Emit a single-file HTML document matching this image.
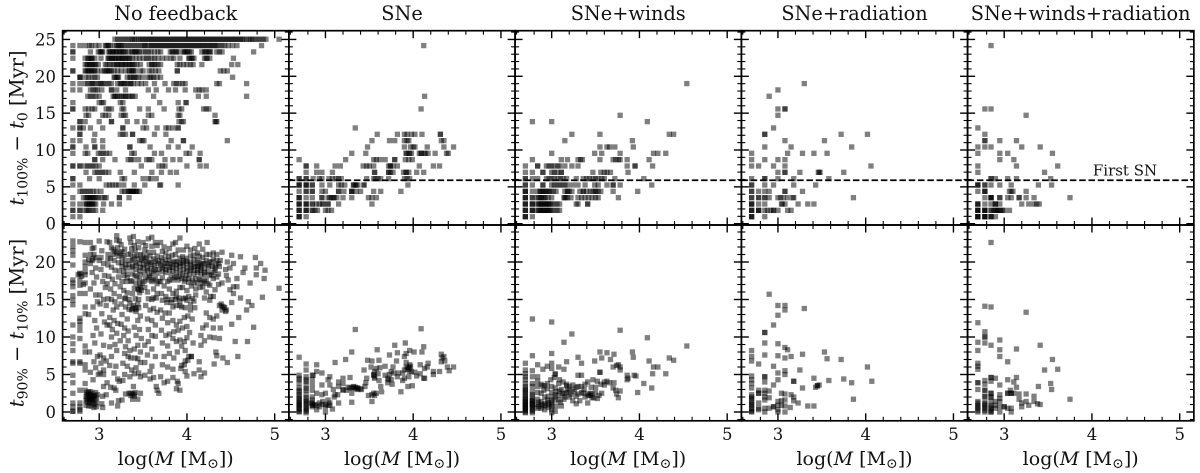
<!DOCTYPE html>
<html lang="en">
<head>
<meta charset="utf-8">
<title>Star cluster formation timescales by feedback model</title>
<style>
html,body{margin:0;padding:0;background:#fff;}
svg{display:block;font-family:"DejaVu Serif","Liberation Serif",serif;}
</style>
</head>
<body>
<svg id="figure" width="1200" height="473" viewBox="0 0 1200 473" xmlns="http://www.w3.org/2000/svg">
  <defs><filter id="soften" x="0" y="0" width="100%" height="100%"><feGaussianBlur stdDeviation="0.35"/></filter></defs>
  <rect x="0" y="0" width="1200" height="473" fill="#ffffff"/>
  <g id="marks" filter="url(#soften)"></g>
  <g id="axes"></g>
  <g font-size="19.3" text-anchor="middle" fill="#111">
    <text x="175.7" y="20">No feedback</text>
    <text x="402" y="20">SNe</text>
    <text x="628.2" y="20">SNe+winds</text>
    <text x="854.5" y="20">SNe+radiation</text>
    <text x="1080.7" y="20">SNe+winds+radiation</text>
  </g>
  <text transform="translate(23.5,128) rotate(-90)" text-anchor="middle" font-size="19.5" fill="#111"><tspan font-style="italic">t</tspan><tspan font-size="14" dy="4">100%</tspan><tspan dy="-4"> − </tspan><tspan font-style="italic">t</tspan><tspan font-size="14" dy="4">0</tspan><tspan dy="-4"> [Myr]</tspan></text>
  <text transform="translate(23.5,323) rotate(-90)" text-anchor="middle" font-size="19.5" fill="#111"><tspan font-style="italic">t</tspan><tspan font-size="14" dy="4">90%</tspan><tspan dy="-4"> − </tspan><tspan font-style="italic">t</tspan><tspan font-size="14" dy="4">10%</tspan><tspan dy="-4"> [Myr]</tspan></text>
  <g font-size="19" text-anchor="middle" fill="#111">
    <text x="175.7" y="465">log(<tspan font-style="italic">M</tspan> [M<tspan font-size="14" dy="3">⊙</tspan><tspan dy="-3">])</tspan></text>
    <text x="402" y="465">log(<tspan font-style="italic">M</tspan> [M<tspan font-size="14" dy="3">⊙</tspan><tspan dy="-3">])</tspan></text>
    <text x="628.2" y="465">log(<tspan font-style="italic">M</tspan> [M<tspan font-size="14" dy="3">⊙</tspan><tspan dy="-3">])</tspan></text>
    <text x="854.5" y="465">log(<tspan font-style="italic">M</tspan> [M<tspan font-size="14" dy="3">⊙</tspan><tspan dy="-3">])</tspan></text>
    <text x="1080.7" y="465">log(<tspan font-style="italic">M</tspan> [M<tspan font-size="14" dy="3">⊙</tspan><tspan dy="-3">])</tspan></text>
  </g>
  <text x="1125" y="175.5" font-size="15" text-anchor="middle" fill="#111">First SN</text>
</svg>
<script>
// Discrete time rows of the top panels (Myr)
const topTimeRows = [0.95,1.81,2.67,3.53,4.39,5.25,6.11,6.97,7.83,8.69,9.55,10.41,11.27,12.13,12.99,13.85,14.71,15.57,16.43,17.29,18.15,19.01,19.87,20.73,21.59,22.45,23.31,24.17,25.03];
const firstSnTime = 5.9;
const xTickLabels = [3,4,5];
const xMinorTicks = [2.6,2.8,3.2,3.4,3.6,3.8,4.2,4.4,4.6,4.8];
const yTickLabelsTop = [0,5,10,15,20,25];
const yMinorTicksTop = [1,2,3,4,6,7,8,9,11,12,13,14,16,17,18,19,21,22,23,24,26];
const yTickLabelsBottom = [0,5,10,15,20];
const yMinorTicksBottom = [-1,1,2,3,4,6,7,8,9,11,12,13,14,16,17,18,19,21,22,23,24];

// Top-row masses (log M) listed per entry of topTimeRows
const topNoFeedback = [
[2.70,2.78],
[2.70,2.70,2.78,2.78,2.84,2.86,2.88,2.90,2.93,2.96,3.04],
[2.70,2.78,2.84,2.86,2.88,2.90,2.92,2.94,2.96,3.05,3.14,3.23],
[2.70,2.82,2.85,2.87,2.89,2.91,2.93,2.95,2.97,2.99,3.03,3.06,3.08,3.23,3.23,3.34],
[2.78,2.81,2.84,2.87,2.90,2.93,2.97,3.02,3.26,3.29,3.33,3.35,3.37,3.39,3.41,3.43,3.46],
[2.70,2.78,3.08,3.12,3.15,3.19,3.22,3.28,3.40,3.52,3.69,3.70,3.90],
[2.70,2.70,2.89,3.00,3.26,3.29,3.50,3.56,3.59,3.65],
[2.85,2.95,2.98,3.01,3.04,3.07,3.11,3.24,3.40,3.60,3.71,3.81,3.88],
[2.70,2.70,2.78,2.78,2.84,2.87,2.90,2.93,2.96,3.00,3.48,3.68,3.72,3.75,4.00,4.15,4.22],
[2.95,2.95,3.04,3.18,3.33,3.36,3.39,3.45,3.54,3.57,3.60,3.75,3.84,3.92,4.14,4.14],
[2.70,2.84,2.87,2.99,3.02,3.05,3.08,3.12,3.37,3.40,3.63,3.71,3.99,4.03,4.15],
[2.70,2.70,2.85,2.95,2.95,3.04,3.35,3.35,3.58,3.79,3.90,4.06],
[2.70,2.78,2.94,3.04,3.46,3.49,3.51,3.82,3.96,3.96,4.46],
[2.78,2.78,2.95,3.24,3.27,3.30,3.38,3.38,3.63,3.76],
[2.70,2.78,2.78,2.82,2.90,3.04,3.27,3.27,3.50,3.54,3.66,3.76,3.79,3.84,3.90,3.90],
[2.78,2.78,2.84,3.00,3.14,3.14,3.32,3.43,3.52,3.91,3.94,3.96,4.32,4.33,4.34],
[2.85,2.88,3.04,3.07,3.11,3.25,3.28,3.30,3.56,3.60,3.90,3.92,4.32],
[2.70,2.70,2.84,2.88,2.92,2.95,3.08,3.11,3.14,3.26,3.28,3.46,3.56,3.74,3.91,3.94,4.19,4.22,4.25],
[2.70,3.00,3.03,3.05,3.24,3.27,3.69,3.90,3.99,3.99],
[2.87,2.90,2.93,2.96,3.00,3.16,3.18,3.21,3.25,3.28,3.30,3.34,3.38,3.41,3.62,4.13,4.22,4.68],
[2.70,2.78,2.90,2.93,2.96,2.98,3.03,3.14,3.14,3.20,3.30,3.56,3.65,3.79,3.87,3.98,4.10,4.14,4.17,4.22],
[2.70,2.78,2.84,2.87,2.90,2.93,2.96,2.99,3.02,3.05,3.08,3.11,3.14,3.21,3.24,3.27,3.30,3.33,3.36,3.39,3.44,3.48,3.53,3.63,3.75,3.85,3.88,3.91,3.95,3.98,4.34,4.37,4.68],
[2.78,2.78,2.85,2.88,2.92,2.95,2.98,3.17,3.20,3.22,3.32,3.36,3.39,3.42,3.45,3.49,3.55,3.58,3.62,3.66,3.70,4.52],
[2.70,2.70,2.84,2.87,2.89,2.92,2.95,2.98,3.03,3.06,3.09,3.11,3.14,3.17,3.21,3.25,3.30,3.34,3.37,3.39,3.41,3.47,3.50,3.57,3.60,3.64,3.68,3.89,3.89,4.38,4.42,4.46],
[2.84,2.87,2.90,2.93,2.96,2.99,3.07,3.09,3.12,3.15,3.17,3.20,3.22,3.25,3.28,3.31,3.34,3.37,3.40,3.43,3.47,3.57,3.60,3.63,3.67,3.70,3.89,3.92,3.96,4.00,4.04,4.07,4.17,4.51,4.58],
[2.70,2.84,2.87,2.90,2.92,2.95,3.02,3.10,3.12,3.14,3.17,3.19,3.22,3.24,3.27,3.29,3.32,3.35,3.38,3.42,3.46,3.50,3.54,3.56,3.60,3.63,3.67,3.72,3.77,3.82,3.85,3.92,4.02,4.05,4.08,4.20,4.23,4.26,4.53],
[2.70,2.70,2.90,2.99,3.02,3.04,3.11,3.13,3.15,3.18,3.20,3.23,3.25,3.27,3.30,3.33,3.37,3.40,3.43,3.46,3.50,3.53,3.56,3.59,3.63,3.67,3.70,3.81,3.84,3.87,3.90,3.96,3.98,4.00,4.03,4.05,4.17,4.20,4.22,4.25,4.27,4.34,4.37,4.40,4.76],
[2.70,2.78,2.84,2.89,2.91,2.96,3.00,3.07,3.10,3.13,3.18,3.20,3.23,3.26,3.29,3.32,3.35,3.38,3.41,3.44,3.47,3.50,3.53,3.56,3.59,3.62,3.65,3.68,3.71,3.74,3.77,3.80,3.83,3.86,3.89,3.92,3.95,3.98,4.01,4.04,4.07,4.10,4.13,4.16,4.19,4.22,4.25,4.28,4.31,4.34,4.37,4.40,4.43,4.47,4.52,4.57,4.85],
[3.18,3.21,3.24,3.27,3.30,3.33,3.36,3.38,3.40,3.42,3.45,3.47,3.49,3.51,3.53,3.55,3.57,3.59,3.61,3.63,3.65,3.67,3.69,3.71,3.73,3.75,3.77,3.79,3.81,3.83,3.85,3.87,3.89,3.91,3.93,3.95,3.97,3.99,4.01,4.03,4.05,4.07,4.09,4.11,4.13,4.15,4.17,4.19,4.21,4.23,4.25,4.27,4.29,4.31,4.33,4.35,4.37,4.39,4.41,4.43,4.45,4.47,4.49,4.51,4.53,4.55,4.57,4.59,4.61,4.63,4.65,4.68,4.71,4.73,4.75,4.78,4.81,4.84,4.87,4.90,5.05]
];
const topSne = [
[2.70,2.70,2.78],
[2.70,2.70,2.78,2.78,2.85,2.88,2.91,3.00,3.03,3.07],
[2.70,2.70,2.78,2.78,2.85,2.85,2.90,2.93,2.97,2.97,3.03,3.03,3.15,3.53],
[2.70,2.70,2.78,2.85,2.96,2.96,3.03,3.07,3.10,3.13,3.20,3.30,3.49,3.53,3.58],
[2.70,2.78,2.78,2.85,2.85,2.96,3.00,3.15,3.15,3.21,3.30,3.30,3.35,3.40,3.55,3.63,3.86],
[2.70,2.70,2.78,2.78,2.85,2.85,2.96,3.05,3.15,3.18,3.22,3.32,3.34,3.37,3.44,3.44,3.94],
[2.70,2.70,2.78,2.78,2.86,2.93,2.96,3.04,3.08,3.12,3.15,3.18,3.47,3.55,3.57,3.60,3.63,3.72,3.90,3.93,3.96],
[2.78,2.90,2.96,3.08,3.56,3.56,3.72,3.74,3.77,3.89,3.92,3.95,4.04,4.12],
[2.78,2.78,2.90,3.11,3.17,3.43,3.47,3.50,3.55,3.72,3.74,3.77,3.82,4.07,4.23,4.30],
[2.70,3.23,3.55,3.58,3.62,3.68,3.79,3.79,3.91,3.95,3.99],
[3.30,3.46,3.92,3.95,3.98,4.07,4.09,4.13,4.17,4.25,4.38,4.40],
[3.48,3.90,3.97,4.00,4.02,4.16,4.35,4.46],
[3.53,3.73,3.79,3.90,3.93,3.95,4.32,4.35],
[3.59,3.82,3.90,3.93,3.98,4.02,4.10,4.31,4.31],
[3.34],[],[],[4.09],[],[4.13],[],[],[],[],[],[],[],[4.12],[]
];
const topSneWinds = [
[2.70,2.70,2.78],
[2.70,2.70,2.78,2.78,2.84,2.86,2.88,2.90,2.92,2.94,2.96,2.98,3.00,3.03,3.06,3.09],
[2.70,2.70,2.78,2.78,2.84,2.86,2.88,2.90,2.92,2.94,2.96,2.98,3.00,3.03,3.06,3.09,3.28,3.30,3.41,3.41],
[2.70,2.70,2.78,2.78,2.84,2.87,2.90,2.93,2.96,3.00,3.14,3.16,3.18,3.22,3.30,3.34,3.38,3.42,3.46,3.50,3.53,3.76],
[2.70,2.70,2.78,2.84,2.87,2.90,2.93,2.96,2.99,3.02,3.05,3.15,3.18,3.20,3.23,3.32,3.36,3.40,3.44,3.47,3.50,3.53,3.56,3.70,3.98],
[2.70,2.70,2.78,2.90,2.90,3.00,3.03,3.06,3.09,3.12,3.15,3.18,3.24,3.30,3.38,3.49,3.53,3.63,3.70,3.70,3.78,4.14],
[2.70,2.70,2.78,2.84,2.94,2.97,3.00,3.03,3.07,3.10,3.13,3.17,3.28,3.36,3.40,3.43,3.47,3.50,3.53,3.57,3.60,3.72,4.05],
[2.70,2.78,2.90,2.90,3.00,3.03,3.06,3.11,3.11,3.47,3.56,3.60,3.63,3.67,3.87],
[2.70,2.84,2.84,2.94,2.97,3.00,3.03,3.07,3.09,3.15,3.23,3.30,3.86,3.95,3.95,4.15],
[2.78,3.11,3.18,3.30,3.33,3.35,3.55,3.70,3.73,3.76,3.78,3.86,4.11],
[3.00,3.49,3.57,3.78,4.16,4.21,4.30],
[3.55,3.63,3.66,3.72,3.93],
[3.15,3.92],
[3.23,3.55,4.34,4.39],
[],
[2.78,3.00,4.09],
[3.78],[],[],[],[],
[4.54],[],[],[],[],[],[],[]
];
const topSneRadiation = [
[2.70,2.70,2.70,2.85],
[2.70,2.70,2.70,2.78,2.78,2.78,2.85,2.88,2.92,2.95,2.95,3.00,3.11,3.15],
[2.70,2.70,2.70,2.78,2.85,3.04,3.05,3.08,3.23,3.34,3.41],
[2.70,2.70,2.78,2.78,2.85,2.85,2.90,3.00,3.03,3.06,3.11,3.17,3.18,3.86],
[2.70,2.70,2.78,2.85,2.90,3.08,3.08,3.28],
[2.70,2.70,2.85,2.95,3.18,3.43],
[2.70,2.85,2.85,3.00,3.18,3.58],
[3.00,3.08,3.08,3.25,3.46,3.47,3.48,3.75],
[2.70,2.78,2.95,3.08,4.06],
[2.70,2.85,3.00,3.08],
[2.70,3.11,3.28,3.41,3.56],
[2.85,3.15,3.84],
[3.08,3.53],
[2.85,2.85,3.72,4.02],
[2.95],[],
[3.00],
[3.00,3.08,3.08],
[],
[2.90],
[3.00],
[3.30],[],[],[],[],[],[],[]
];
const topSneWindsRadiation = [
[2.70,2.70,2.70,2.78,2.78,2.78,2.85,2.85,2.90],
[2.70,2.70,2.70,2.78,2.78,2.78,2.85,2.85,2.88,2.90,2.92,2.95,2.98,3.00,3.06],
[2.70,2.70,2.78,2.85,2.90,2.90,2.95,3.20,3.28,3.34,3.37,3.40],
[2.78,2.85,2.85,2.85,2.95,2.95,3.04,3.08,3.17,3.17,3.25,3.34,3.75],
[2.70,2.78,2.78,3.06,3.08,3.10,3.25],
[2.70,2.70,2.78,2.78,2.85,2.95,3.08,3.39,3.54],
[2.85,2.85,2.90,3.04,3.14,3.53],
[2.70,3.46],
[2.70,3.14,3.61],
[2.95,3.11],
[2.70,2.95,3.04,3.55],
[2.70,2.78,2.85,3.20,3.41],
[2.78,2.78,2.95,3.14],
[2.78],
[2.70],[],
[3.25],
[2.78,2.85],
[],[],[],[],[],[],[],[],[],
[2.85],
[]
];

// Extra overlapping points where the top panels read darkest: [log M, time]
const topNoFeedbackDense = [
[3.08,24.17],[3.11,24.17],[3.22,24.17],[3.25,24.17],[3.52,24.17],[3.6,24.17],[3.66,24.17],[3.72,24.17],[3.78,24.17],[3.84,24.17],[3.9,24.17],[3.96,24.17],[4.02,24.17],[4.08,24.17],[4.14,24.17],[4.2,24.17],[4.26,24.17],[4.32,24.17],
[3.01,23.31],[3.03,23.31],[3.12,23.31],[3.16,23.31],[3.19,23.31],[3.24,23.31],[3.28,23.31],[3.38,23.31],[3.41,23.31],[3.44,23.31],[3.83,23.31],[3.88,23.31],[3.97,23.31],[4.01,23.31],[4.21,23.31],[4.26,23.31],
[2.88,22.45],[2.91,22.45],[3.11,22.45],[3.15,22.45],[3.18,22.45],[3.23,22.45],[3.26,22.45],[3.3,22.45],[3.34,22.45],[4.03,22.45],[4.06,22.45],[4.22,22.45],
[2.86,21.59],[2.89,21.59],[2.92,21.59],[2.95,21.59],[3.21,21.59],[3.26,21.59],[3.3,21.59],[3.35,21.59],[3.38,21.59],[3.6,21.59],[3.64,21.59],
[2.85,20.73],[2.88,20.73],[2.91,20.73],[2.94,20.73],[3.08,20.73],[3.12,20.73],[3.35,20.73],[3.38,20.73],
[2.79,19.87],[3.18,19.87],[3.21,19.87],[3.35,19.87],[3.4,19.87],[3.6,19.87],
[2.92,19.01],[3.02,19.01],[3.25,19.01],[3.29,19.01],[3.36,19.01],
[3.18,17.29],[3.23,17.29],[3.3,17.29],[3.36,17.29],
[2.87,3.53],[2.9,3.53],[2.93,3.53],[2.86,2.67],[2.89,2.67],[2.92,2.67],[3.33,4.39],[3.36,4.39],[3.39,4.39],[3.42,4.39]
];
const topSneDense = [
[2.7,0.95],[2.7,1.81],[2.78,1.81],[2.7,2.67],[2.78,2.67],[2.7,3.53],[2.85,1.81],[3.32,5.25],[3.35,5.25],[3.3,4.39],[2.7,5.25],[2.78,5.25],[3.05,3.53],[3.09,3.53],[3.92,9.55],[3.96,9.55],[4.09,9.55],[4.14,9.55],[3.72,6.97],[3.74,7.83],[3.92,6.97]
];
const topSneWindsDense = [
[2.7,0.95],[2.7,1.81],[2.78,1.81],[2.7,2.67],[2.78,2.67],[2.7,3.53],[2.7,4.39],[2.85,1.81],[2.88,1.81],[2.91,1.81],[2.94,1.81],[2.97,1.81],[2.85,2.67],[2.88,2.67],[2.91,2.67],[2.94,2.67],[2.97,2.67],[2.85,3.53],[2.88,3.53],[2.91,3.53],[2.87,4.39],[2.9,4.39],[2.93,4.39],[2.97,4.39],[3.15,3.53],[3.18,4.39],[3.36,4.39],[3.5,4.39]
];
const topSneWindsRadiationDense = [
[2.7,0.95],[2.78,0.95],[2.85,0.95],[2.7,1.81],[2.78,1.81],[2.9,1.81],[2.93,1.81],[2.96,1.81],[2.7,2.67],[2.7,5.25],[2.78,4.39],[2.85,3.53],[2.9,2.67]
];

// Bottom-row points as [log M, t90-t10]
const bottomNoFeedback = [
[2.70,22.8],[2.70,22.1],[2.70,21.5],[2.70,20.9],[2.70,19.6],[2.70,17.6],[2.70,17.2],[2.70,16.7],[2.70,15.5],[2.70,14.9],[2.70,14.3],[2.70,11.6],[2.70,10],[2.70,9.1],[2.70,8.2],[2.70,6.7],[2.70,6.5],[2.70,4.9],[2.70,3.9],[2.70,2.5],[2.70,1.2],[2.70,0.7],[2.70,0.1],[2.70,0.1],
[2.78,22.7],[2.78,18.5],[2.78,18.4],[2.78,17.6],[2.78,16.9],[2.78,15.8],[2.78,12.5],[2.78,12.1],[2.78,11.6],[2.78,10.9],[2.78,9.8],[2.78,6.7],[2.78,6.5],[2.78,2.9],[2.78,1.2],[2.78,0.7],[2.78,0.3],[2.78,0.1],
[2.84,22.6],[2.84,20.9],[2.84,20],[2.84,19.4],[2.84,18.7],[2.84,18.3],[2.84,17.2],[2.84,15.8],[2.84,14],[2.84,13.1],[2.84,8.8],[2.84,8],[2.84,6.3],[2.84,5.6],[2.84,3.8],
[2.84,2.9],[2.86,2.6],[2.88,2.4],[2.90,2.7],[2.92,2.5],[2.94,2.2],[2.96,2.6],[2.98,2.3],[2.85,2.1],[2.87,1.9],[2.89,2.1],[2.91,2],[2.93,1.8],[2.95,1.6],[2.97,1.9],[2.85,1.5],[2.87,1.3],[2.89,1.6],[2.91,1.4],[2.93,1.2],[2.95,1],[2.97,1.3],[2.85,0.9],[2.88,0.8],[2.91,0.8],[2.94,0.6],[2.97,0.7],[3.03,1.1],[3.04,0.6],[3.04,2.1],[3.08,2.3],[3.14,1.2],[3.21,0.8],[3.22,1.5],[3.19,2.9],[3.26,1.6],[3.3,2.4],[3.34,2.5],[3.36,2.2],[3.4,2.4],[3.38,1.7],[3.44,1.7],[3.47,2.5],
[2.90,22.6],[2.92,21.8],[2.94,21],[2.93,20.4],[2.9,19.8],[2.96,19.2],[2.92,18.6],[2.97,18],[2.94,17.2],[2.9,16.4],[2.96,15.6],[2.98,14.7],[2.93,14],[2.88,13],[2.95,12.2],[2.97,11.2],[2.93,10.2],[2.95,9.2],[2.89,8],[2.98,7.4],[2.94,6.7],[2.96,5.9],[2.9,5.3],[2.99,5],[2.93,4.3],
[3.00,22.8],[3.03,21.5],[3.02,20.6],[3.05,19.8],[3.02,19],[3.06,18.2],[3.04,17.4],[3.07,16.6],[3.01,15.6],[3.05,15],[3.08,14.2],[3.01,14.4],[3.03,13.1],[3.06,12],[3.09,11.6],[3.12,11.6],[3.02,10.4],[3.05,8.9],[3.01,7.6],[3.05,7.2],[3.08,6.8],[3.02,6.5],[3.05,5.6],[3.01,5.2],[3.05,5],[3.09,3.9],[3.05,3.4],[3.13,3.3],[3.17,3.2],
[3.09,22.7],[3.12,22.6],[3.14,21.9],[3.16,21.7],[3.18,21.4],[3.1,21],[3.13,20.5],[3.17,20.2],[3.1,19.6],[3.14,19.3],[3.18,18.9],[3.11,18.1],[3.15,17.7],[3.09,17.1],[3.18,17.1],[3.13,16.4],[3.17,15.8],[3.1,15.1],[3.14,15],[3.18,14.7],[3.2,14],[3.16,13.6],[3.12,12.6],[3.17,12.2],[3.21,11.8],[3.15,11],[3.2,10.5],[3.14,10],[3.18,9],[3.12,8.7],[3.2,8.2],[3.14,7.4],[3.12,6.2],[3.19,6.1],[3.17,5.2],[3.21,4.4],[3.23,4.1],
[3.2,23.5],[3.2,22.9],[3.23,22.8],[3.25,22.3],[3.21,21.9],[3.26,21.4],[3.29,21.7],[3.22,20.8],[3.26,20.6],[3.3,20.2],[3.22,19.9],[3.26,19.4],[3.31,19.2],[3.23,18.8],[3.28,18.2],[3.32,18.4],[3.22,18],[3.26,17.4],[3.31,17.4],[3.24,16.7],[3.28,16.2],[3.32,15.9],[3.23,15.4],[3.29,15.1],[3.34,15],[3.25,14.4],[3.3,14],[3.34,13.7],[3.37,13.6],[3.26,13],[3.32,12.4],[3.25,11.7],[3.29,11.2],[3.33,10.8],[3.28,10.2],[3.24,9.5],[3.33,9.5],[3.3,8.7],[3.35,8.2],[3.29,7.8],[3.33,7.4],[3.36,7.2],[3.27,6.5],[3.32,6.1],[3.37,5.6],[3.29,5],[3.35,4.7],[3.27,4.2],
[3.35,23.2],[3.39,23.4],[3.36,22.6],[3.4,22.2],[3.44,22.7],[3.37,21.8],[3.41,21.5],[3.45,21.9],[3.36,21.1],[3.4,20.7],[3.44,20.4],[3.47,21],[3.36,20.2],[3.41,19.9],[3.46,19.8],[3.37,19.2],[3.42,19],[3.46,18.8],[3.38,18.4],[3.43,18],[3.47,18.3],[3.37,17.4],[3.42,17.2],[3.46,16.9],[3.4,16.5],[3.45,16.3],[3.48,16.2],[3.38,15.8],[3.41,15.1],[3.45,15],[3.39,14.2],[3.41,13.9],[3.42,13.4],[3.45,13.9],[3.47,12.8],[3.44,12.2],[3.4,11.3],[3.46,11],[3.42,10.2],[3.48,9.8],[3.44,8.9],[3.4,8.4],[3.47,8],[3.41,7.2],[3.44,7.1],[3.47,6.6],[3.42,5.9],[3.45,5.2],[3.4,5.1],[3.47,4.7],[3.39,3.4],[3.41,2.6],
[3.5,22.6],[3.53,22.2],[3.56,23.1],[3.6,23.3],[3.52,21.6],[3.56,21.3],[3.6,22.1],[3.64,22.6],[3.5,20.9],[3.54,20.6],[3.58,20.8],[3.62,21.3],[3.66,22.2],[3.5,20.2],[3.54,19.8],[3.58,19.9],[3.62,20.4],[3.66,20.8],[3.5,19.2],[3.55,19.2],[3.59,19.1],[3.63,19.5],[3.67,19.8],[3.52,18.6],[3.57,18.2],[3.62,18.8],[3.66,18.5],[3.51,17.4],[3.56,17.6],[3.6,17.4],[3.64,17.8],[3.68,17.4],[3.52,16.6],[3.55,16],[3.62,16.4],[3.66,15.8],[3.56,15.1],[3.6,15],[3.65,15.2],[3.53,14.2],[3.58,13.6],[3.62,13.8],[3.66,13.3],[3.55,12.4],[3.6,12.2],[3.64,11.6],[3.56,11],[3.6,10.2],[3.64,10.1],[3.56,9.4],[3.52,8.9],[3.6,8.4],[3.55,7.6],[3.64,7.4],[3.52,6.6],[3.6,6.1],[3.58,5.4],[3.52,4.9],[3.62,4.6],[3.58,4.4],[3.65,3.4],[3.66,2.9],[3.68,2.5],
[3.7,22.6],[3.74,22],[3.72,21.4],[3.76,21.2],[3.8,21.8],[3.84,22.4],[3.87,22.6],[3.92,23.2],[3.71,20.6],[3.75,20.4],[3.79,20.7],[3.83,20.9],[3.87,21],[3.9,21.6],[3.7,19.6],[3.74,19.4],[3.78,19.8],[3.82,19.6],[3.86,20.1],[3.89,20],[3.92,20.5],[3.72,18.7],[3.76,18.6],[3.8,18.9],[3.84,18.8],[3.88,19.2],[3.92,19.4],[3.7,17.4],[3.74,16.8],[3.8,17.6],[3.84,17.6],[3.88,18],[3.92,18.1],[3.71,15.8],[3.76,15.4],[3.8,16.4],[3.84,15.8],[3.88,16.1],[3.92,16.6],[3.72,14.9],[3.77,14.6],[3.83,15],[3.87,15],[3.91,15.2],[3.7,13.6],[3.75,13.2],[3.8,13.2],[3.84,14],[3.88,14.2],[3.92,14.2],[3.72,12.5],[3.78,11.9],[3.84,12.2],[3.88,11.6],[3.92,12.1],[3.71,10.9],[3.76,10.2],[3.8,10.4],[3.85,10.7],[3.9,10.9],[3.72,9.2],[3.78,8.8],[3.84,9.8],[3.88,9.4],[3.92,9.6],[3.74,7.4],[3.8,7.8],[3.85,7.2],[3.89,8],[3.94,8.8],[3.72,6.3],[3.78,6],[3.84,5.7],[3.7,4.7],[3.74,3.9],[3.78,4.1],[3.84,4.6],[3.89,4.1],[3.9,3.8],[3.88,3.1],[3.92,2.9],
[3.96,21.6],[4,22.1],[4.04,21.6],[4.09,21.8],[3.95,20.7],[3.99,20.5],[4.04,20.8],[4.08,20.9],[4.12,21.2],[3.95,19.9],[4,19.8],[4.04,20],[4.08,20.3],[4.12,20.2],[3.96,19],[4,19.2],[4.05,19.2],[4.09,19.4],[4.13,19.5],[3.95,18.4],[3.99,18.2],[4.03,18.4],[4.08,18.4],[4.12,18.6],[3.97,17.4],[4.02,17.3],[4.06,17.6],[4.1,17.8],[4.14,17.7],[3.95,16.6],[4,16.2],[4.05,16.8],[4.1,16.4],[4.15,16.6],[3.96,15.1],[4,14.9],[4.06,15.1],[4.1,15.6],[3.94,14],[3.98,13.9],[4.04,13.6],[4.09,13.9],[3.97,12.6],[4.01,12.8],[4.06,12.4],[3.95,11.2],[4,11.4],[4.03,10.6],[4,9.9],[3.97,9.4],[4.07,9.2],[3.98,8.2],[4.02,7.4],[4.05,7.4],[3.98,6.8],[3.94,6.2],[3.98,5.4],[4,4.8],[4.08,5.1],[3.93,5.8],
[4.14,22.4],[4.18,21.7],[4.23,22.6],[4.14,20.8],[4.18,20.6],[4.22,21],[4.26,21],[4.3,21.2],[4.34,21],[4.14,19.9],[4.18,19.8],[4.22,20.2],[4.26,20],[4.3,20.4],[4.34,20.2],[4.38,20.2],[4.4,21.3],[4.16,19.2],[4.2,19.1],[4.25,19.4],[4.29,19.4],[4.33,19.6],[4.37,19.4],[4.16,18.4],[4.2,18.6],[4.26,18.3],[4.3,18.6],[4.36,18.4],[4.16,17.6],[4.2,17.4],[4.24,17.1],[4.3,17.8],[4.34,18],[4.18,16.7],[4.22,16],[4.27,15.4],[4.32,16.3],[4.36,17],[4.4,17.2],[4.2,15.2],[4.26,14.9],[4.3,15.4],[4.37,14.2],[4.42,14],[4.4,13.6],[4.44,13.4],[4.45,13.6],[4.22,13.2],[4.26,12.6],[4.3,12.4],[4.34,12.8],[4.22,11.6],[4.18,11.2],[4.3,11.2],[4.38,11.2],[4.16,10.2],[4.26,10],[4.31,9.9],[4.37,9.8],[4.2,9.5],[4.16,8.9],
[4.34,7.5],[4.33,8],[4.31,6.4],[4.2,5.2],[4.16,4.7],[4.14,5.6],[4.14,6.7],[4.05,7.4],[4.01,6.9],[3.97,6.3],
[5.05,16.5],[4.88,17.8],[4.89,18.9],[4.84,19.8],[4.79,19.2],[4.78,20.6],[4.79,18.3],[4.86,15.3],[4.72,17.2],[4.76,11.3],[4.69,9.4],[4.55,9.4],[4.58,7.4],[4.46,6.6],[4.41,7.2],[4.61,20.7],[4.51,20.9],[4.53,19.8],[4.49,19.2],[4.64,18.6],[4.66,19.2],[4.57,17.8],[4.53,16.7],[4.49,16.3],[4.57,16.7],[4.53,15.8],[4.61,15.2],[4.7,14.7],[4.74,14.2],[4.68,13.6],[4.51,14.6],[4.59,12.6],[4.51,11.7],[4.46,20],[4.44,19],[4.47,17.6],[4.45,18.2]
];
// Overlapping points inside the darkest part of the no-feedback cloud
const bottomNoFeedbackDense = [
[3.24,21.2],[3.28,20.9],[3.33,21],[3.38,20.4],[3.43,20.9],[3.48,20.3],[3.52,20.5],[3.56,20],[3.6,19.7],[3.64,20.1],[3.68,20.2],[3.72,20],[3.76,19.8],[3.8,20.2],[3.84,19.9],[3.88,19.6],[3.92,19.8],[3.96,20.2],[4,20.1],[4.04,19.6],[4.08,19.7],[4.12,19.4],[4.16,19.6],[4.2,19.8],[4.24,19.6],[4.28,20],[4.32,19.2],[4.36,19.8],
[3.26,19.9],[3.3,19.6],[3.34,19.7],[3.38,19.4],[3.42,19.6],[3.47,19.3],[3.51,19.6],[3.55,18.9],[3.6,18.5],[3.64,19],[3.68,19],[3.72,19.2],[3.76,19],[3.8,19.3],[3.84,19.3],[3.88,18.6],[3.92,18.8],[3.96,19.6],[4,18.8],[4.04,18.9],[4.08,18.9],[4.12,18.9],[4.16,18.9],[4.2,18.3],[4.24,18.7],[4.28,18.2],[4.32,18.9],
[3.28,18.8],[3.32,17.9],[3.36,17.5],[3.41,18.2],[3.46,17.6],[3.49,17.2],[3.53,17.9],[3.58,18],[3.62,17.6],[3.66,17.1],[3.72,17.9],[3.78,17.4],[3.82,18.2],[3.86,17.9],[3.9,17.6],[3.94,17.8],[3.98,17.7],[4.02,17.8],[4.08,17.2],[4.12,17.2],[4.18,17.2],[4.22,17.6],[4.26,16.9],[4.4,14.1],[4.43,13.9],[4.39,14.4],
[3.44,16.4],[3.46,15.9],[3.47,16.6],[3.3,15.2],[3.35,14.5],[3.38,13.8],[3.42,13.7],[3.44,14.4],[3.62,15.2],[3.78,15],[3.82,14.6],[3.88,15.4],[3.92,14.8],[3.98,15.2],[4.02,15.4],[4.04,14.3],[4.08,14.8],
[2.76,18.3],[2.8,18.1],[2.82,17],[2.88,20.3],[2.9,21],[2.94,21.9],[2.92,20.2],[2.96,20.6],[3,20.2],[3.1,20.3],[3.16,21],[3.2,21.2],[2.86,2.3],[2.9,2.3],[2.93,2.1],[2.89,1.2],[2.9,1.8],[2.86,1.7],[2.92,1.6],[2.88,2.7],[2.95,2.1],[3.38,2.4],[3.36,2.5],[3.4,2.1]
];
const bottomSne = [
[2.70,4.9],[2.70,4.5],[2.70,3.8],[2.70,3.2],[2.70,2.7],[2.70,2.3],[2.70,1.8],[2.70,1.4],[2.70,1.2],[2.70,0.7],[2.70,0.5],[2.70,0],
[2.78,6.4],[2.78,5.6],[2.78,4.7],[2.78,4.3],[2.78,3.6],[2.78,2.9],[2.78,2.3],[2.78,1.6],[2.78,1.2],[2.78,0.7],[2.78,0.3],[2.78,-0.1],
[2.85,4.9],[2.85,4.3],[2.85,3.6],[2.85,2.9],[2.85,2],[2.85,1.2],[2.85,0.7],
[2.7,7.3],[3.34,11],[4.09,11.1],[3.3,8],[3.11,6.6],[3.23,7],[3.91,9.2],[3.79,8.9],[4.12,8.7],[3.59,8.3],[3.82,7.9],[3.73,7.6],[3.92,7.8],[3.96,8.2],[4.01,8],[4.1,8],[3.48,6.9],[3.53,6.8],[3.61,6.9],[3.68,6.1],[3.81,6.8],[3.9,7.4],[3.92,6.6],[4.32,7.7],[4.33,7.2],[4.35,7.4],[4.32,6.7],[4.36,6.8],[4.39,6],[4.46,6],[4.41,5.5],[4.3,5.4],[4.23,5.4],[4.23,5],[4.17,6.5],[4.16,6],[4.08,6.3],[4.13,5.8],[4.13,4.5],[4.08,5.1],[4.04,4.8],[3.98,5.4],[3.96,6.3],[3.99,3.5],[3.94,3.4],[3.86,2.7],[3.95,4.7],[3.9,4.5],[3.88,4.2],[3.83,5.2],[3.77,6],[3.75,5.4],[3.73,5],[3.71,4.5],[3.75,4.3],[3.76,3.7],[3.71,3.9],[3.62,5.9],[3.55,5],[3.56,4.5],[3.61,4.2],[3.63,3.4],[3.64,2.7],[3.58,2.5],[3.53,2.3],[3.56,2.2],[3.49,2.2],[3.53,1.4],[3.3,1.3],[3.46,3.9],[3.47,4.5],[3.44,5.6],[3.52,6],[3.58,5.8],[3.56,5.4],[3.45,3.4],[3.41,3],[3.37,3],[3.32,3.4],[3.28,3.2],[3.34,3.3],[3.3,2.5],[3.28,4.6],[3.2,4.5],[3.2,3.8],[3.2,3],[3.15,4],[3.15,3.4],[3.09,3],[3.05,3.6],[3.05,4.7],[3.03,4.3],[3.11,2.3],[3.15,1.2],[3.08,0.4],[3,0],[3.05,0.9],[3.03,1.6],[2.97,1.4],[2.93,1.2],[2.9,0.3],[2.86,0.9],[2.84,1.2],[2.9,6.3],[2.96,5.2],[2.9,5.4],[2.86,4.9],[2.96,3.6],[3,2.5],[2.96,2.3],[2.9,2.5],[3.36,3.2],[3.4,3.1],[3.24,2.9],[3.26,3.3],
[3.6,5.1],[3.68,4.9],[3.78,5.2],[3.82,4.7],[3.92,6],[3.94,5.7],[3.96,5.4],[4.02,5.3],[3.96,5.9],[3.88,5.2]
];
const bottomSneDense = [
[2.70,4.3],[2.70,2.9],[2.70,2.1],[2.70,1.6],[2.70,1],[2.70,0.9],[2.70,0.3],[2.70,0.1],[2.78,4.1],[2.78,3.1],[2.78,1.9],[2.78,1.4],[2.78,1],[2.78,0.5],[2.78,0.1],[2.85,1.6],[2.85,0.9],[2.88,1],[2.9,0.9],[2.93,0.7],[2.96,1],[3,1],[3,0.7],[3.03,0.9],[3.05,1.2],[3.1,2],[3.14,2.3],[3.2,2.9],[3.32,3.3],[3.3,3.2],[3.35,3.1],[3.37,3.2],[3.55,4.9],[3.56,4.7],[3.72,4.3],[3.9,5.6],[3.94,5.9],[4.12,4.5],[3.97,6.1],[3.55,2.5]
];
const bottomSneWinds = [
[2.70,5.6],[2.70,5.1],[2.70,4.7],[2.70,4.3],[2.70,3.8],[2.70,3.4],[2.70,2.9],[2.70,2.5],[2.70,2],[2.70,1.6],[2.70,1.2],[2.70,0.7],[2.70,0.3],[2.70,-0.1],[2.70,6.5],[2.70,3.1],[2.70,2.2],[2.70,1.4],[2.70,0.9],[2.70,0.5],
[2.78,4.7],[2.78,3.8],[2.78,3.4],[2.78,2.7],[2.78,2.3],[2.78,1.6],[2.78,1.2],[2.78,0.7],[2.78,0.3],[2.78,-0.1],[2.78,1.4],[2.78,0.9],
[2.78,12.4],[3,12],[3.23,10.4],[3.14,9.3],[3.78,10.9],[4.09,9.9],[4.54,8.8],[2.78,7.5],[3,7.8],[3,6.5],[3.3,7.3],[3.34,6.5],[3.17,6.7],[3.08,6],[3.14,5.7],[2.84,6.3],[2.78,5.5],[2.9,5.7],[2.95,6.1],[3,5.8],[3.55,8],[3.63,7.9],[3.71,7.7],[3.57,7.2],[3.49,6.8],[3.67,7],[3.92,8],[3.93,7.3],[4.11,6.8],[4.16,6],[4.21,6],[4.34,7.2],[4.39,6.9],[4.3,5.1],[4.15,5.1],[4.14,3.2],[4.05,3.8],[3.98,2.6],[3.94,4.9],[3.96,4.8],[3.86,4.9],[3.86,4.3],[3.87,4.5],[3.76,6.3],[3.78,6],[3.74,6.2],[3.7,6],[3.78,5.6],[3.55,5.3],[3.55,5.3],[3.3,4.9],[3.34,4.9],[3.47,4.3],[3.41,4],[3.38,3.7],[3.34,3.4],[3.3,3.4],[3.24,3.6],[3.17,3.7],[3.13,4],[3.09,4.3],[3.04,5.1],[3.04,5],
[2.84,4.7],[2.84,4.1],[2.84,3.4],[2.84,2.6],[2.84,1.7],[2.84,1],[2.84,0.5],[2.88,3.7],[2.88,2.5],[2.88,1.4],[2.88,0.5],[2.9,3.5],[2.91,2.9],[2.92,2],[2.92,1.1],[2.92,0.3],[2.95,3.1],[2.96,2.1],[2.96,1.3],[2.96,0.6],[2.99,4.3],[3,2.6],[3,1.6],[3,1],[3,0.3],[3,-0.1],[3.04,3.2],[3.04,2.3],[3.04,1.6],[3.05,0.8],[3.04,0.1],[3.08,3.8],[3.09,2.8],[3.08,1.6],[3.11,0.8],[3.11,3],[3.14,2.4],[3.14,1.7],[3.17,3.5],[3.17,2.6],[3.2,3.4],[3.2,2],[3.24,3],[3.24,1.5],[3.28,1.1],[3.28,3.3],[3.3,2.4],[3.32,1.5],[3.34,2.6],[3.37,3],[3.38,2],[3.41,1.2],[3.41,2.4],[3.44,2.2],[3.46,2.4],[3.48,1.9],[3.5,2.6],[3.52,1.8],[3.54,2.2],[3.57,2.5],[3.6,4],[3.6,3.6],[3.63,4.1],[3.66,3.9],[3.7,3.2],[3.71,3.9],[3.74,2.4],[3.76,1.9],[3.78,2.8],[3.73,2.9],[3.52,4.1],[3.56,3.7],[3.5,3.3],[3.45,3.3]
];
const bottomSneWindsDense = [
[2.70,1.8],[2.70,1.3],[2.70,1],[2.70,0.6],[2.70,0.2],[2.70,0],[2.70,2.7],[2.78,2],[2.78,1.5],[2.78,1],[2.78,0.6],[2.78,0.1],[2.85,1.3],[2.85,0.7],[2.88,1],[2.9,0.8],[2.93,0.9],[2.95,1.6],[2.97,1],[3,1.3],[3,0.7],[3.02,2],[3.05,2.7],[3.08,2.2],[3.1,1.3],[3.12,2.5],[3.15,2],[3.18,3],[3.2,2.7],[3.22,2.3],[3.26,2.7],[3.28,2.1],[3.36,2.5],[3.42,2.2],[3.44,2.5],[3.46,1.9],[2.92,3.5],[2.95,3.8],[3,3.4],[3.03,4.6]
];
const bottomSneRadiation = [
[2.9,15.7],[3,14.2],[3.08,14.2],[3.08,13.6],[3.3,13.8],[3,12.9],[2.95,11.6],[2.85,10.6],[2.85,10.6],[2.85,9.2],[3,9.1],[3.08,8.6],[3.11,8.3],[2.7,8.2],[3.53,8],[2.7,7.4],[2.7,6.8],[2.85,7.6],[3,7.5],[3.08,7.2],[3.15,7.4],[3.28,7.7],[3.56,7.1],[3.72,7],[2.78,6.4],[2.95,6.1],[4.02,6],[3.25,5.6],[3.08,5.5],[3.08,5],[3,5.2],[3,4.3],[2.7,4.8],[2.7,4.3],[2.7,3.8],[2.7,3.2],[2.85,4.7],[2.85,4.7],[2.85,4],[3.41,4.5],[3.18,4.1],[3.18,4.1],[3.58,4.2],[3.75,4.4],[3.84,3.9],[4.07,4.1],[3.47,3.6],[3.45,3.5],[3.45,3.5],[3.43,3.3],[3.28,3.2],[2.95,3.6],[2.78,2.9],[2.78,2.5],[2.78,2.5],[2.85,2.9],[2.85,2.5],[2.85,2],[2.85,1.6],[2.9,2.8],[2.9,1.9],[3.04,2.5],[3.08,2.4],[3.15,2.3],[3.18,2],[3.18,1.5],[3.23,1.2],[3.86,1.7],[3.34,0.8],[3.41,0.8],[3.08,1.6],[3.04,1.5],[3,1.4],[3,0.9],[2.95,0.7],[2.95,0.7],[3.04,0.9],[3.08,0.8],[3.14,0.6],[3,0.3],[3,0],[3.08,0],[2.9,0.5],[2.85,0.5],[2.85,0],[2.78,1.2],[2.78,0.5],[2.78,0.3],
[2.7,2.3],[2.7,1.8],[2.7,1.6],[2.7,1.2],[2.7,0.9],[2.7,0.5],[2.7,0.3],[2.7,0],[2.7,2],[2.7,1],[2.7,0.1]
];
const bottomSneWindsRadiation = [
[2.85,22.6],[2.78,14.1],[2.85,14],[3.25,13.3],[2.7,11.9],[2.78,10.7],[2.78,10],[2.78,10],[2.78,9.2],[2.7,9.3],[2.7,8.2],[2.85,8.9],[2.95,9.6],[2.95,8.3],[2.95,7.4],[3.14,8.4],[3.41,8.9],[3.04,6.7],[3.55,7],[3.46,5.6],[3.61,5.7],[2.7,6.5],[2.7,6.1],[2.7,5.7],[2.85,4.6],[2.85,4.6],[2.9,4.5],[2.78,4.2],[2.78,3.7],[2.85,4.1],[2.7,3.9],[2.7,3.9],[3.04,4.3],[3.14,4.6],[3.11,4],[2.95,3.6],[2.7,3],[2.78,2.9],[2.78,2.9],[3.14,3.3],[3.39,3.4],[3.53,3.8],[3.54,3],[3.75,1.7],[3.07,2.9],[3.04,2.5],[3.04,2.5],[3.08,2.5],[3.08,2.5],[3.11,2.5],[3.17,2.4],[3.25,2.4],[3.34,2.1],[3.17,1.7],[2.95,2.3],[2.95,1.8],[2.85,2.5],[2.85,2.5],[2.85,2],[2.85,2],[2.78,2.1],[2.78,2.1],[3.34,1.4],[3.25,1.4],[3.28,0.9],[3.2,1.2],[3.2,0.7],[3.38,1.1],[3.41,1],[2.9,1.4],[2.9,0.9],[2.9,0.5],[2.85,1.4],[2.85,0.9],[2.85,0.5],[2.85,0],[2.85,0],[2.78,1.4],[2.78,0.9],[2.78,0.5],[2.78,0],[2.7,1.4],[2.7,0.9],[2.7,0.5],[2.7,0],[2.95,1.4],[2.95,0.7],[2.95,0],[3,0.7],[3,0.7],[3.04,0.5],[3.08,0.5],[3.08,0],[2.7,1.2],[2.7,0.7],[2.7,0.2],[2.78,1.1],[2.78,0.7],[2.78,0.2],[2.85,0.7],[2.85,0.2]
];

const NS = 'http://www.w3.org/2000/svg';
const marksGroup = document.getElementById('marks');
const axesGroup = document.getElementById('axes');
const panelWidth = 226.25;
const figureLeft = 62.6;
const topEdge = 30.7;
const rowEdge = 225;
const bottomEdge = 420.8;
const markSize = 5.3;

function xAxis(col, mass) { return figureLeft + col * panelWidth + (mass - 2.583) * 87.75; }
function yAxisTop(time) { return 223.7 - time * 7.37; }
function yAxisBottom(time) { return 412 - time * 7.5; }

function drawMark(col, mass, py, label) {
  const el = document.createElementNS(NS, 'rect');
  
  
  el.setAttribute('x', (xAxis(col, mass) - markSize / 2).toFixed(2));
  el.setAttribute('y', (py - markSize / 2).toFixed(2));
  el.setAttribute('width', markSize);
  el.setAttribute('height', markSize);
  el.setAttribute('fill', '#000');
  el.setAttribute('fill-opacity', '0.5');
  marksGroup.appendChild(el);
}

function drawTopPanel(col, massByRow) {
  massByRow.forEach(function (masses, row) {
    masses.forEach(function (mass) {
      drawMark(col, mass, yAxisTop(topTimeRows[row]), 'cluster-point-top');
    });
  });
}

function drawTopPoints(col, points) {
  points.forEach(function (point) {
    drawMark(col, point[0], yAxisTop(point[1]), 'cluster-point-top');
  });
}

function drawBottomPanel(col, points) {
  points.forEach(function (point) {
    drawMark(col, point[0], yAxisBottom(point[1]), 'cluster-point-bottom');
  });
}

function drawLine(x1, y1, x2, y2, width, label) {
  const el = document.createElementNS(NS, 'line');
  
  
  el.setAttribute('x1', x1);
  el.setAttribute('y1', y1);
  el.setAttribute('x2', x2);
  el.setAttribute('y2', y2);
  el.setAttribute('stroke', '#000');
  el.setAttribute('stroke-width', width);
  axesGroup.appendChild(el);
  return el;
}

function drawLabel(x, y, str, anchor, label) {
  const el = document.createElementNS(NS, 'text');
  
  
  el.setAttribute('x', x);
  el.setAttribute('y', y);
  el.setAttribute('font-size', '16.5');
  el.setAttribute('text-anchor', anchor);
  el.setAttribute('fill', '#111');
  el.textContent = str;
  axesGroup.appendChild(el);
}

function drawPanelAxes(col, top, bottom, yScale, majors, minors, isBottomRow) {
  const left = figureLeft + col * panelWidth;
  const right = left + panelWidth;
  const frame = document.createElementNS(NS, 'rect');
  
  
  frame.setAttribute('x', left);
  frame.setAttribute('y', top);
  frame.setAttribute('width', panelWidth);
  frame.setAttribute('height', bottom - top);
  frame.setAttribute('fill', 'none');
  frame.setAttribute('stroke', '#000');
  frame.setAttribute('stroke-width', '1.7');
  axesGroup.appendChild(frame);

  xTickLabels.forEach(function (mass) {
    const x = xAxis(col, mass);
    drawLine(x, bottom, x, bottom - 7.5, 1.4, 'x-major-tick');
    drawLine(x, top, x, top + 7.5, 1.4, 'x-major-tick');
    if (isBottomRow) {
      drawLabel(x, 440, String(mass), 'middle', 'x-tick-label');
    }
  });
  xMinorTicks.forEach(function (mass) {
    const x = xAxis(col, mass);
    drawLine(x, bottom, x, bottom - 4, 1.1, 'x-minor-tick');
    drawLine(x, top, x, top + 4, 1.1, 'x-minor-tick');
  });
  majors.forEach(function (time) {
    const y = yScale(time);
    drawLine(left, y, left + 7.5, y, 1.4, 'y-major-tick');
    drawLine(right, y, right - 7.5, y, 1.4, 'y-major-tick');
    if (col === 0) {
      drawLabel(56, y + 6, String(time), 'end', 'y-tick-label');
    }
  });
  minors.forEach(function (time) {
    const y = yScale(time);
    if (y > top && y < bottom) {
      drawLine(left, y, left + 4, y, 1.1, 'y-minor-tick');
      drawLine(right, y, right - 4, y, 1.1, 'y-minor-tick');
    }
  });
}

const topPanels = [topNoFeedback, topSne, topSneWinds, topSneRadiation, topSneWindsRadiation];
const bottomPanels = [bottomNoFeedback, bottomSne, bottomSneWinds, bottomSneRadiation, bottomSneWindsRadiation];

topPanels.forEach(function (panel, col) { drawTopPanel(col, panel); });
drawTopPoints(0, topNoFeedbackDense);
drawTopPoints(1, topSneDense);
drawTopPoints(2, topSneWindsDense);
drawTopPoints(4, topSneWindsRadiationDense);
bottomPanels.forEach(function (panel, col) { drawBottomPanel(col, panel); });
drawBottomPanel(0, bottomNoFeedbackDense);
drawBottomPanel(1, bottomSneDense);
drawBottomPanel(2, bottomSneWindsDense);
for (let col = 0; col < 5; col++) {
  drawPanelAxes(col, topEdge, rowEdge, yAxisTop, yTickLabelsTop, yMinorTicksTop, false);
  drawPanelAxes(col, rowEdge, bottomEdge, yAxisBottom, yTickLabelsBottom, yMinorTicksBottom, true);
}
for (let col = 1; col < 5; col++) {
  const dash = drawLine(figureLeft + col * panelWidth, yAxisTop(firstSnTime), figureLeft + (col + 1) * panelWidth, yAxisTop(firstSnTime), 1.8, 'first-sn-line');
  dash.setAttribute('stroke-dasharray', '6.5 2.8');
}
</script>
</body>
</html>
